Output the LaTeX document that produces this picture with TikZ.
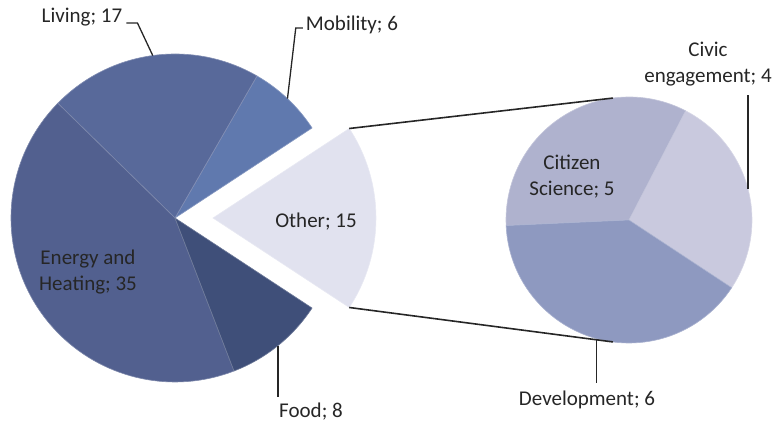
\documentclass[tikz,border=0pt]{standalone}
\usepackage{fontspec}
\setmainfont{Carlito}
\definecolor{livingcol}{HTML}{58699A}
\definecolor{energycol}{HTML}{52608F}
\definecolor{mobilitycol}{HTML}{6079AE}
\definecolor{foodcol}{HTML}{3F4F79}
\definecolor{othercol}{HTML}{E1E2EF}
\definecolor{citizencol}{HTML}{AFB2CE}
\definecolor{civiccol}{HTML}{C9C9DE}
\definecolor{devcol}{HTML}{8E99C0}
\definecolor{linecol}{HTML}{262626}

\begin{document}
\begin{tikzpicture}[x=1pt, y=1pt,
    lbl/.style = {font=\fontsize{21}{26}\selectfont, text=linecol, align=center, inner sep=0pt},
    leader/.style = {draw=linecol, line width=1.3pt},
    link/.style = {draw=linecol, line width=1.6pt},
    slice/.style = {draw=white!25!#1, line width=0.6pt, fill=#1}]
\useasboundingbox (0,0) rectangle (781,425);
\coordinate (c) at (175,207);
\coordinate (o) at (213,207);
\coordinate (s) at (629,205);
% main pie
\filldraw[slice=mobilitycol] (c) -- ++(33.3:164) arc[start angle=33.3, end angle=60, radius=164] -- cycle;
\filldraw[slice=livingcol] (c) -- ++(60:164) arc[start angle=60, end angle=135.6, radius=164] -- cycle;
\filldraw[slice=energycol] (c) -- ++(135.6:164) arc[start angle=135.6, end angle=291.1, radius=164] -- cycle;
\filldraw[slice=foodcol] (c) -- ++(291.1:164) arc[start angle=291.1, end angle=326.7, radius=164] -- cycle;
\filldraw[slice=othercol] (o) -- ++(-33.3:163) arc[start angle=-33.3, end angle=33.3, radius=163] -- cycle;
% second pie
\filldraw[slice=civiccol] (s) -- ++(-33.4:123) arc[start angle=-33.4, end angle=62.6, radius=123] -- cycle;
\filldraw[slice=citizencol] (s) -- ++(62.6:123) arc[start angle=62.6, end angle=182.6, radius=123] -- cycle;
\filldraw[slice=devcol] (s) -- ++(182.6:123) arc[start angle=182.6, end angle=326.6, radius=123] -- cycle;
% anchor points on the rims
\coordinate (living-pt) at ([shift={(97.8:164)}]c);
\coordinate (mobility-pt) at ([shift={(46.7:164)}]c);
\coordinate (food-pt) at ([shift={(308.9:164)}]c);
\coordinate (other-top) at ([shift={(33.3:163)}]o);
\coordinate (other-bot) at ([shift={(-33.3:163)}]o);
\coordinate (sec-top) at ([shift={(97.5:123)}]s);
\coordinate (sec-bot) at ([shift={(262.5:123)}]s);
\coordinate (civic-pt) at ([shift={(14.6:123)}]s);
\coordinate (dev-pt) at ([shift={(254.6:123)}]s);
% links between the pies
\draw[link] (other-top) -- (sec-top);
\draw[link] (other-bot) -- (sec-bot);
% labels
\node[lbl] (living) at (82,408) {Living; 17};
\node[lbl] (mobility) at (352,400) {Mobility; 6};
\node[lbl] (food) at (311,13) {Food; 8};
\node[lbl] (energy) at (88,153) {Energy and\\Heating; 35};
\node[lbl] (other) at (316,203) {Other; 15};
\node[lbl] (citizen) at (572,248) {Citizen\\Science; 5};
\node[lbl] (civic) at (708,361) {Civic\\engagement; 4};
\node[lbl] (dev) at (587,25) {Development; 6};
% leader lines
\draw[leader] ([xshift=4pt,yshift=-6pt]living.east) -- ++(11,0) -- (living-pt);
\draw[leader] ([xshift=-3pt,yshift=-3pt]mobility.west) -- ++(-7,0) -- (mobility-pt);
\draw[leader] (food-pt) -- (food-pt |- 0,28);
\draw[leader] (civic-pt) -- ++(0,94);
\draw[leader] (dev-pt) -- (dev-pt |- 0,42);
\end{tikzpicture}
\end{document}
